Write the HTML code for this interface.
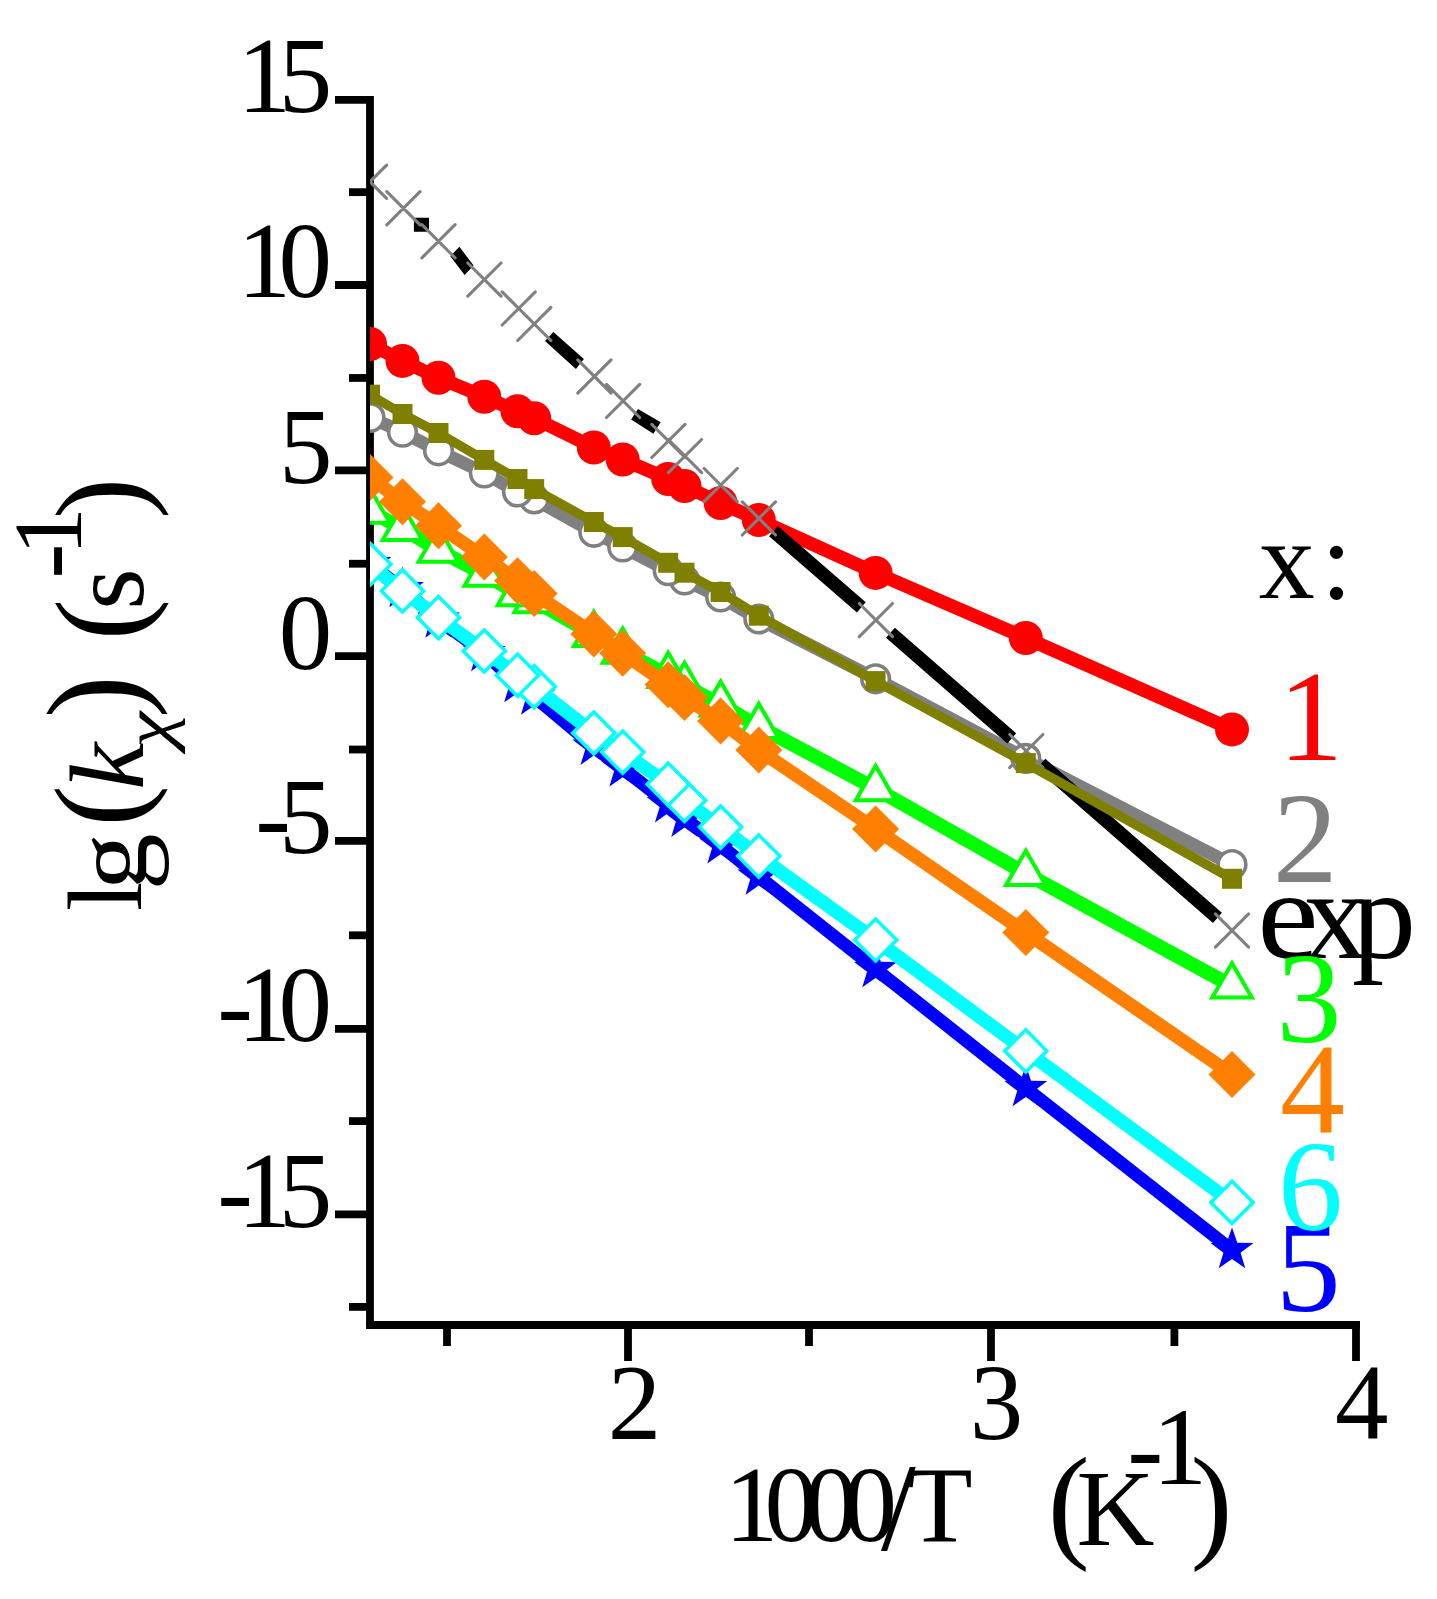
<!DOCTYPE html>
<html><head><meta charset="utf-8"><style>
html,body{margin:0;padding:0;background:#fff;}
svg{display:block;}
text{font-family:"Liberation Serif",serif;}
</style></head><body>
<svg width="1437" height="1599" viewBox="0 0 1437 1599">
<rect width="1437" height="1599" fill="#fff"/>
<path d="M370.0 96 V1325.0" stroke="#000" stroke-width="7.8" fill="none"/>
<path d="M366.1 1325.0 H1360" stroke="#000" stroke-width="7.8" fill="none"/>
<path d="M335 99.90 H370.0" stroke="#000" stroke-width="7.8"/>
<path d="M335 285.00 H370.0" stroke="#000" stroke-width="7.8"/>
<path d="M335 470.30 H370.0" stroke="#000" stroke-width="7.8"/>
<path d="M335 656.20 H370.0" stroke="#000" stroke-width="7.8"/>
<path d="M335 840.85 H370.0" stroke="#000" stroke-width="7.8"/>
<path d="M335 1028.90 H370.0" stroke="#000" stroke-width="7.8"/>
<path d="M335 1214.40 H370.0" stroke="#000" stroke-width="7.8"/>
<path d="M349 192.17 H370.0" stroke="#000" stroke-width="7.8"/>
<path d="M349 377.95 H370.0" stroke="#000" stroke-width="7.8"/>
<path d="M349 563.74 H370.0" stroke="#000" stroke-width="7.8"/>
<path d="M349 749.52 H370.0" stroke="#000" stroke-width="7.8"/>
<path d="M349 935.31 H370.0" stroke="#000" stroke-width="7.8"/>
<path d="M349 1121.09 H370.0" stroke="#000" stroke-width="7.8"/>
<path d="M349 1306.88 H370.0" stroke="#000" stroke-width="7.8"/>
<path d="M628.0 1325.0 V1361" stroke="#000" stroke-width="7.8"/>
<path d="M991.0 1325.0 V1361" stroke="#000" stroke-width="7.8"/>
<path d="M1356.0 1325.0 V1361" stroke="#000" stroke-width="7.8"/>
<path d="M447.00 1325.0 V1346" stroke="#000" stroke-width="7.8"/>
<path d="M809.00 1325.0 V1346" stroke="#000" stroke-width="7.8"/>
<path d="M1174.40 1325.0 V1346" stroke="#000" stroke-width="7.8"/>
<text x="278.68" y="112.30" font-size="107" fill="#000" style="" >5</text>
<text x="237.50" y="112.30" font-size="107" fill="#000" style="" >1</text>
<text x="278.58" y="297.40" font-size="107" fill="#000" style="" >0</text>
<text x="237.50" y="297.40" font-size="107" fill="#000" style="" >1</text>
<text x="278.88" y="482.70" font-size="107" fill="#000" style="" >5</text>
<text x="278.78" y="668.60" font-size="107" fill="#000" style="" >0</text>
<text x="278.88" y="853.25" font-size="107" fill="#000" style="" >5</text>
<text x="255.23" y="853.25" font-size="107" fill="#000" style="" >-</text>
<text x="278.58" y="1041.30" font-size="107" fill="#000" style="" >0</text>
<text x="237.50" y="1041.30" font-size="107" fill="#000" style="" >1</text>
<text x="217.13" y="1041.30" font-size="107" fill="#000" style="" >-</text>
<text x="278.68" y="1226.80" font-size="107" fill="#000" style="" >5</text>
<text x="237.50" y="1226.80" font-size="107" fill="#000" style="" >1</text>
<text x="217.13" y="1226.80" font-size="107" fill="#000" style="" >-</text>
<text x="607.85" y="1438.80" font-size="107" fill="#000" style="" >2</text>
<text x="969.68" y="1438.80" font-size="107" fill="#000" style="" >3</text>
<text x="1335.04" y="1438.80" font-size="107" fill="#000" style="" >4</text>
<text x="724.70" y="1540.50" font-size="107" fill="#000" style="" >1</text>
<text x="764.42" y="1540.50" font-size="107" fill="#000" style="" >0</text>
<text x="804.62" y="1540.50" font-size="107" fill="#000" style="" >0</text>
<text x="843.52" y="1540.50" font-size="107" fill="#000" style="" >0</text>
<text x="881.00" y="1549.50" font-size="125" fill="#000" style="" >/</text>
<text x="907.27" y="1540.50" font-size="107" fill="#000" style="" >T</text>
<g transform="translate(0,0)">
<text x="1047.66" y="1545.00" font-size="126" fill="#000" style="" >(</text>
<text x="1190.58" y="1545.00" font-size="126" fill="#000" style="" >)</text>
</g>
<text x="1076.59" y="1544.50" font-size="108" fill="#000" style="" >K</text>
<text x="1127.29" y="1483.50" font-size="108" fill="#000" style="" >-</text>
<text x="1152.33" y="1483.90" font-size="110" fill="#000" style="" >1</text>
<g transform="rotate(-90)">
<text x="-911.12" y="140.80" font-size="106" style="">l</text>
<text transform="translate(-890.42 145.50) scale(1.08 1)" x="0" y="0" font-size="106" style="">g</text>
<text x="-826.45" y="141.20" font-size="124" style="">(</text>
<text x="-789.65" y="142.80" font-size="106" style="font-style:italic;">k</text>
<text transform="translate(-747.77 170.50) scale(1.2 1)" x="0" y="0" font-size="68" style="font-style:italic;">χ</text>
<text transform="translate(-718.15 139.00) scale(0.96 1)" x="0" y="0" font-size="134" style="">)</text>
<text x="-640.15" y="142.00" font-size="124" style="">(</text>
<text x="-609.75" y="142.70" font-size="106" style="">s</text>
<text x="-578.73" y="82.90" font-size="106" style="">-</text>
<text x="-555.48" y="80.70" font-size="96.5" style="">1</text>
<text x="-519.00" y="142.00" font-size="124" style="">)</text>
</g>
<defs><clipPath id="pc"><rect x="370" y="0" width="1067" height="1325"/></clipPath></defs>
<g clip-path="url(#pc)">
<path d="M370.00 564.00L402.50 589.00M402.50 589.00L438.50 619.50M438.50 619.50L484.30 653.00M484.30 653.00L517.50 684.00M517.50 684.00L534.20 696.50M534.20 696.50L593.80 746.60M593.80 746.60L622.70 768.20M622.70 768.20L668.20 804.10M668.20 804.10L684.50 818.60M684.50 818.60L720.60 845.30M720.60 845.30L758.80 876.50M758.80 876.50L875.60 969.00M875.60 969.00L1025.80 1088.00M1025.80 1088.00L1232.00 1250.00" stroke="#0000ff" stroke-width="13" fill="none" stroke-linecap="butt"/>
<path d="M1232.00 1227.40L1237.29 1242.72L1253.49 1243.02L1240.56 1252.78L1245.28 1268.28L1232.00 1259.00L1218.72 1268.28L1223.44 1252.78L1210.51 1243.02L1226.71 1242.72Z" fill="#0000ff"/><path d="M1025.80 1065.40L1031.09 1080.72L1047.29 1081.02L1034.36 1090.78L1039.08 1106.28L1025.80 1097.00L1012.52 1106.28L1017.24 1090.78L1004.31 1081.02L1020.51 1080.72Z" fill="#0000ff"/><path d="M875.60 946.40L880.89 961.72L897.09 962.02L884.16 971.78L888.88 987.28L875.60 978.00L862.32 987.28L867.04 971.78L854.11 962.02L870.31 961.72Z" fill="#0000ff"/><path d="M758.80 853.90L764.09 869.22L780.29 869.52L767.36 879.28L772.08 894.78L758.80 885.50L745.52 894.78L750.24 879.28L737.31 869.52L753.51 869.22Z" fill="#0000ff"/><path d="M720.60 822.70L725.89 838.02L742.09 838.32L729.16 848.08L733.88 863.58L720.60 854.30L707.32 863.58L712.04 848.08L699.11 838.32L715.31 838.02Z" fill="#0000ff"/><path d="M684.50 796.00L689.79 811.32L705.99 811.62L693.06 821.38L697.78 836.88L684.50 827.60L671.22 836.88L675.94 821.38L663.01 811.62L679.21 811.32Z" fill="#0000ff"/><path d="M668.20 781.50L673.49 796.82L689.69 797.12L676.76 806.88L681.48 822.38L668.20 813.10L654.92 822.38L659.64 806.88L646.71 797.12L662.91 796.82Z" fill="#0000ff"/><path d="M622.70 745.60L627.99 760.92L644.19 761.22L631.26 770.98L635.98 786.48L622.70 777.20L609.42 786.48L614.14 770.98L601.21 761.22L617.41 760.92Z" fill="#0000ff"/><path d="M593.80 724.00L599.09 739.32L615.29 739.62L602.36 749.38L607.08 764.88L593.80 755.60L580.52 764.88L585.24 749.38L572.31 739.62L588.51 739.32Z" fill="#0000ff"/><path d="M534.20 673.90L539.49 689.22L555.69 689.52L542.76 699.28L547.48 714.78L534.20 705.50L520.92 714.78L525.64 699.28L512.71 689.52L528.91 689.22Z" fill="#0000ff"/><path d="M517.50 661.40L522.79 676.72L538.99 677.02L526.06 686.78L530.78 702.28L517.50 693.00L504.22 702.28L508.94 686.78L496.01 677.02L512.21 676.72Z" fill="#0000ff"/><path d="M484.30 630.40L489.59 645.72L505.79 646.02L492.86 655.78L497.58 671.28L484.30 662.00L471.02 671.28L475.74 655.78L462.81 646.02L479.01 645.72Z" fill="#0000ff"/><path d="M438.50 596.90L443.79 612.22L459.99 612.52L447.06 622.28L451.78 637.78L438.50 628.50L425.22 637.78L429.94 622.28L417.01 612.52L433.21 612.22Z" fill="#0000ff"/><path d="M402.50 566.40L407.79 581.72L423.99 582.02L411.06 591.78L415.78 607.28L402.50 598.00L389.22 607.28L393.94 591.78L381.01 582.02L397.21 581.72Z" fill="#0000ff"/><path d="M370.00 541.40L375.29 556.72L391.49 557.02L378.56 566.78L383.28 582.28L370.00 573.00L356.72 582.28L361.44 566.78L348.51 557.02L364.71 556.72Z" fill="#0000ff"/>
<path d="M370.00 564.30L402.50 590.90M402.50 590.90L438.50 617.60M438.50 617.60L484.30 651.00M484.30 651.00L517.50 675.20M517.50 675.20L534.20 686.70M534.20 686.70L593.80 733.00M593.80 733.00L622.70 752.10M622.70 752.10L668.20 784.30M668.20 784.30L684.50 800.40M684.50 800.40L720.60 827.10M720.60 827.10L758.80 856.10M758.80 856.10L875.60 940.00M875.60 940.00L1025.80 1050.90M1025.80 1050.90L1232.00 1202.40" stroke="#00ffff" stroke-width="13.5" fill="none" stroke-linecap="butt"/>
<path d="M1232.00 1181.30L1253.10 1202.40L1232.00 1223.50L1210.90 1202.40Z" fill="#fff" stroke="#00ffff" stroke-width="3.5" stroke-linejoin="miter"/><path d="M1025.80 1029.80L1046.90 1050.90L1025.80 1072.00L1004.70 1050.90Z" fill="#fff" stroke="#00ffff" stroke-width="3.5" stroke-linejoin="miter"/><path d="M875.60 918.90L896.70 940.00L875.60 961.10L854.50 940.00Z" fill="#fff" stroke="#00ffff" stroke-width="3.5" stroke-linejoin="miter"/><path d="M758.80 835.00L779.90 856.10L758.80 877.20L737.70 856.10Z" fill="#fff" stroke="#00ffff" stroke-width="3.5" stroke-linejoin="miter"/><path d="M720.60 806.00L741.70 827.10L720.60 848.20L699.50 827.10Z" fill="#fff" stroke="#00ffff" stroke-width="3.5" stroke-linejoin="miter"/><path d="M684.50 779.30L705.60 800.40L684.50 821.50L663.40 800.40Z" fill="#fff" stroke="#00ffff" stroke-width="3.5" stroke-linejoin="miter"/><path d="M668.20 763.20L689.30 784.30L668.20 805.40L647.10 784.30Z" fill="#fff" stroke="#00ffff" stroke-width="3.5" stroke-linejoin="miter"/><path d="M622.70 731.00L643.80 752.10L622.70 773.20L601.60 752.10Z" fill="#fff" stroke="#00ffff" stroke-width="3.5" stroke-linejoin="miter"/><path d="M593.80 711.90L614.90 733.00L593.80 754.10L572.70 733.00Z" fill="#fff" stroke="#00ffff" stroke-width="3.5" stroke-linejoin="miter"/><path d="M534.20 665.60L555.30 686.70L534.20 707.80L513.10 686.70Z" fill="#fff" stroke="#00ffff" stroke-width="3.5" stroke-linejoin="miter"/><path d="M517.50 654.10L538.60 675.20L517.50 696.30L496.40 675.20Z" fill="#fff" stroke="#00ffff" stroke-width="3.5" stroke-linejoin="miter"/><path d="M484.30 629.90L505.40 651.00L484.30 672.10L463.20 651.00Z" fill="#fff" stroke="#00ffff" stroke-width="3.5" stroke-linejoin="miter"/><path d="M438.50 596.50L459.60 617.60L438.50 638.70L417.40 617.60Z" fill="#fff" stroke="#00ffff" stroke-width="3.5" stroke-linejoin="miter"/><path d="M402.50 569.80L423.60 590.90L402.50 612.00L381.40 590.90Z" fill="#fff" stroke="#00ffff" stroke-width="3.5" stroke-linejoin="miter"/><path d="M370.00 543.20L391.10 564.30L370.00 585.40L348.90 564.30Z" fill="#fff" stroke="#00ffff" stroke-width="3.5" stroke-linejoin="miter"/>
<path d="M370.00 511.40L402.50 528.50M402.50 528.50L438.50 550.20M438.50 550.20L484.30 574.30M484.30 574.30L517.50 593.70M517.50 593.70L534.20 600.70M534.20 600.70L593.80 634.60M593.80 634.60L622.70 651.30M622.70 651.30L668.20 675.50M668.20 675.50L684.50 685.50M684.50 685.50L720.60 704.40M720.60 704.40L758.80 726.50M758.80 726.50L875.60 788.70M875.60 788.70L1025.80 873.50M1025.80 873.50L1232.00 986.00" stroke="#00ff00" stroke-width="14" fill="none" stroke-linecap="butt"/>
<path d="M1232.00 963.14L1251.80 997.43L1212.20 997.43Z" fill="#fff" stroke="#00ff00" stroke-width="4.0" stroke-linejoin="miter"/><path d="M1025.80 850.64L1045.60 884.93L1006.00 884.93Z" fill="#fff" stroke="#00ff00" stroke-width="4.0" stroke-linejoin="miter"/><path d="M875.60 765.84L895.40 800.13L855.80 800.13Z" fill="#fff" stroke="#00ff00" stroke-width="4.0" stroke-linejoin="miter"/><path d="M758.80 703.64L778.60 737.93L739.00 737.93Z" fill="#fff" stroke="#00ff00" stroke-width="4.0" stroke-linejoin="miter"/><path d="M720.60 681.54L740.40 715.83L700.80 715.83Z" fill="#fff" stroke="#00ff00" stroke-width="4.0" stroke-linejoin="miter"/><path d="M684.50 662.64L704.30 696.93L664.70 696.93Z" fill="#fff" stroke="#00ff00" stroke-width="4.0" stroke-linejoin="miter"/><path d="M668.20 652.64L688.00 686.93L648.40 686.93Z" fill="#fff" stroke="#00ff00" stroke-width="4.0" stroke-linejoin="miter"/><path d="M622.70 628.44L642.50 662.73L602.90 662.73Z" fill="#fff" stroke="#00ff00" stroke-width="4.0" stroke-linejoin="miter"/><path d="M593.80 611.74L613.60 646.03L574.00 646.03Z" fill="#fff" stroke="#00ff00" stroke-width="4.0" stroke-linejoin="miter"/><path d="M534.20 577.84L554.00 612.13L514.40 612.13Z" fill="#fff" stroke="#00ff00" stroke-width="4.0" stroke-linejoin="miter"/><path d="M517.50 570.84L537.30 605.13L497.70 605.13Z" fill="#fff" stroke="#00ff00" stroke-width="4.0" stroke-linejoin="miter"/><path d="M484.30 551.44L504.10 585.73L464.50 585.73Z" fill="#fff" stroke="#00ff00" stroke-width="4.0" stroke-linejoin="miter"/><path d="M438.50 527.34L458.30 561.63L418.70 561.63Z" fill="#fff" stroke="#00ff00" stroke-width="4.0" stroke-linejoin="miter"/><path d="M402.50 505.64L422.30 539.93L382.70 539.93Z" fill="#fff" stroke="#00ff00" stroke-width="4.0" stroke-linejoin="miter"/><path d="M370.00 488.54L389.80 522.83L350.20 522.83Z" fill="#fff" stroke="#00ff00" stroke-width="4.0" stroke-linejoin="miter"/>
<path d="M370.00 477.50L402.50 501.70M402.50 501.70L438.50 525.80M438.50 525.80L484.30 557.00M484.30 557.00L517.50 580.80M517.50 580.80L534.20 593.50M534.20 593.50L593.80 633.90M593.80 633.90L622.70 653.30M622.70 653.30L668.20 684.80M668.20 684.80L684.50 697.40M684.50 697.40L720.60 721.00M720.60 721.00L758.80 750.00M758.80 750.00L875.60 829.00M875.60 829.00L1025.80 932.60M1025.80 932.60L1232.00 1074.50" stroke="#ff8000" stroke-width="13.5" fill="none" stroke-linecap="butt"/>
<path d="M1232.00 1051.00L1255.50 1074.50L1232.00 1098.00L1208.50 1074.50Z" fill="#ff8000"/><path d="M1025.80 909.10L1049.30 932.60L1025.80 956.10L1002.30 932.60Z" fill="#ff8000"/><path d="M875.60 805.50L899.10 829.00L875.60 852.50L852.10 829.00Z" fill="#ff8000"/><path d="M758.80 726.50L782.30 750.00L758.80 773.50L735.30 750.00Z" fill="#ff8000"/><path d="M720.60 697.50L744.10 721.00L720.60 744.50L697.10 721.00Z" fill="#ff8000"/><path d="M684.50 673.90L708.00 697.40L684.50 720.90L661.00 697.40Z" fill="#ff8000"/><path d="M668.20 661.30L691.70 684.80L668.20 708.30L644.70 684.80Z" fill="#ff8000"/><path d="M622.70 629.80L646.20 653.30L622.70 676.80L599.20 653.30Z" fill="#ff8000"/><path d="M593.80 610.40L617.30 633.90L593.80 657.40L570.30 633.90Z" fill="#ff8000"/><path d="M534.20 570.00L557.70 593.50L534.20 617.00L510.70 593.50Z" fill="#ff8000"/><path d="M517.50 557.30L541.00 580.80L517.50 604.30L494.00 580.80Z" fill="#ff8000"/><path d="M484.30 533.50L507.80 557.00L484.30 580.50L460.80 557.00Z" fill="#ff8000"/><path d="M438.50 502.30L462.00 525.80L438.50 549.30L415.00 525.80Z" fill="#ff8000"/><path d="M402.50 478.20L426.00 501.70L402.50 525.20L379.00 501.70Z" fill="#ff8000"/><path d="M370.00 454.00L393.50 477.50L370.00 501.00L346.50 477.50Z" fill="#ff8000"/>
<path d="M370.00 344.00L402.50 360.90M402.50 360.90L438.50 377.80M438.50 377.80L484.30 396.80M484.30 396.80L517.50 411.30M517.50 411.30L534.20 418.30M534.20 418.30L593.80 447.50M593.80 447.50L622.70 459.50M622.70 459.50L668.20 479.00M668.20 479.00L684.50 486.00M684.50 486.00L720.60 503.00M720.60 503.00L758.80 520.00M758.80 520.00L875.60 572.90M875.60 572.90L1025.80 638.00M1025.80 638.00L1232.00 729.40" stroke="#ff0000" stroke-width="13.5" fill="none" stroke-linecap="butt"/>
<circle cx="1232" cy="729.4" r="17" fill="#ff0000"/><circle cx="1025.8" cy="638" r="17" fill="#ff0000"/><circle cx="875.6" cy="572.9" r="17" fill="#ff0000"/><circle cx="758.8" cy="520" r="17" fill="#ff0000"/><circle cx="720.6" cy="503" r="17" fill="#ff0000"/><circle cx="684.5" cy="486" r="17" fill="#ff0000"/><circle cx="668.2" cy="479" r="17" fill="#ff0000"/><circle cx="622.7" cy="459.5" r="17" fill="#ff0000"/><circle cx="593.8" cy="447.5" r="17" fill="#ff0000"/><circle cx="534.2" cy="418.3" r="17" fill="#ff0000"/><circle cx="517.5" cy="411.3" r="17" fill="#ff0000"/><circle cx="484.3" cy="396.8" r="17" fill="#ff0000"/><circle cx="438.5" cy="377.8" r="17" fill="#ff0000"/><circle cx="402.5" cy="360.9" r="17" fill="#ff0000"/><circle cx="370" cy="344" r="17" fill="#ff0000"/>
<path d="M370.00 417.40L402.50 432.20M402.50 432.20L438.50 450.80M438.50 450.80L484.30 473.00M484.30 473.00L517.50 492.00M517.50 492.00L534.20 499.00M534.20 499.00L593.80 532.30M593.80 532.30L622.70 547.00M622.70 547.00L668.20 570.70M668.20 570.70L684.50 580.00M684.50 580.00L720.60 597.00M720.60 597.00L758.80 619.00M758.80 619.00L875.60 678.80M875.60 678.80L1025.80 758.40M1025.80 758.40L1232.00 864.60" stroke="#808080" stroke-width="13" fill="none" stroke-linecap="butt"/>
<circle cx="1232" cy="864.6" r="13.8" fill="#fff" stroke="#808080" stroke-width="3.6"/><circle cx="1025.8" cy="758.4" r="13.8" fill="#fff" stroke="#808080" stroke-width="3.6"/><circle cx="875.6" cy="678.8" r="13.8" fill="#fff" stroke="#808080" stroke-width="3.6"/><circle cx="758.8" cy="619" r="13.8" fill="#fff" stroke="#808080" stroke-width="3.6"/><circle cx="720.6" cy="597" r="13.8" fill="#fff" stroke="#808080" stroke-width="3.6"/><circle cx="684.5" cy="580" r="13.8" fill="#fff" stroke="#808080" stroke-width="3.6"/><circle cx="668.2" cy="570.7" r="13.8" fill="#fff" stroke="#808080" stroke-width="3.6"/><circle cx="622.7" cy="547" r="13.8" fill="#fff" stroke="#808080" stroke-width="3.6"/><circle cx="593.8" cy="532.3" r="13.8" fill="#fff" stroke="#808080" stroke-width="3.6"/><circle cx="534.2" cy="499" r="13.8" fill="#fff" stroke="#808080" stroke-width="3.6"/><circle cx="517.5" cy="492" r="13.8" fill="#fff" stroke="#808080" stroke-width="3.6"/><circle cx="484.3" cy="473" r="13.8" fill="#fff" stroke="#808080" stroke-width="3.6"/><circle cx="438.5" cy="450.8" r="13.8" fill="#fff" stroke="#808080" stroke-width="3.6"/><circle cx="402.5" cy="432.2" r="13.8" fill="#fff" stroke="#808080" stroke-width="3.6"/><circle cx="370" cy="417.4" r="13.8" fill="#fff" stroke="#808080" stroke-width="3.6"/>
<path d="M773.47 531.06L861.33 607.44M890.45 632.78L1011.75 738.42M1040.85 763.79L1217.45 917.81" stroke="#000" stroke-width="13.5" fill="none"/>
<path d="M413.9 217.8H429V231.7H413.9Z M459.4 246.8L473.6 265.6L464.6 275L450.3 256.2Z M553.4 332.1L583.9 359L575.9 368.9L545 340.9Z M638 409L660.7 422.3L653.4 433.8L631.1 419.4Z" fill="#000"/>
<path d="M1215.40 913.90L1248.60 947.10M1215.40 947.10L1248.60 913.90M1009.70 734.50L1042.90 767.70M1009.70 767.70L1042.90 734.50M859.30 603.50L892.50 636.70M859.30 636.70L892.50 603.50M742.30 501.80L775.50 535.00M742.30 535.00L775.50 501.80M704.10 468.50L737.30 501.70M704.10 501.70L737.30 468.50M668.40 439.50L701.60 472.70M668.40 472.70L701.60 439.50M651.80 424.30L685.00 457.50M651.80 457.50L685.00 424.30M606.50 384.30L639.70 417.50M606.50 417.50L639.70 384.30M577.80 359.90L611.00 393.10M577.80 393.10L611.00 359.90M517.70 307.30L550.90 340.50M517.70 340.50L550.90 307.30M502.10 291.80L535.30 325.00M502.10 325.00L535.30 291.80M467.80 263.00L501.00 296.20M467.80 296.20L501.00 263.00M421.90 224.70L455.10 257.90M421.90 257.90L455.10 224.70M386.80 191.60L420.00 224.80M386.80 224.80L420.00 191.60M353.40 165.10L386.60 198.30M353.40 198.30L386.60 165.10" stroke="#808080" stroke-width="3.1" fill="none" stroke-linecap="round"/>
<path d="M370.00 394.70L402.50 414.00M402.50 414.00L438.50 433.00M438.50 433.00L484.30 459.90M484.30 459.90L517.50 479.00M517.50 479.00L534.20 489.10M534.20 489.10L593.80 522.00M593.80 522.00L622.70 537.10M622.70 537.10L668.20 562.80M668.20 562.80L684.50 572.70M684.50 572.70L720.60 592.00M720.60 592.00L758.80 615.70M758.80 615.70L875.60 681.10M875.60 681.10L1025.80 763.10M1025.80 763.10L1232.00 878.80" stroke="#808000" stroke-width="9.4" fill="none" stroke-linecap="butt"/>
<rect x="1222.00" y="868.80" width="20" height="20" fill="#808000"/><rect x="1015.80" y="753.10" width="20" height="20" fill="#808000"/><rect x="865.60" y="671.10" width="20" height="20" fill="#808000"/><rect x="748.80" y="605.70" width="20" height="20" fill="#808000"/><rect x="710.60" y="582.00" width="20" height="20" fill="#808000"/><rect x="674.50" y="562.70" width="20" height="20" fill="#808000"/><rect x="658.20" y="552.80" width="20" height="20" fill="#808000"/><rect x="612.70" y="527.10" width="20" height="20" fill="#808000"/><rect x="583.80" y="512.00" width="20" height="20" fill="#808000"/><rect x="524.20" y="479.10" width="20" height="20" fill="#808000"/><rect x="507.50" y="469.00" width="20" height="20" fill="#808000"/><rect x="474.30" y="449.90" width="20" height="20" fill="#808000"/><rect x="428.50" y="423.00" width="20" height="20" fill="#808000"/><rect x="392.50" y="404.00" width="20" height="20" fill="#808000"/><rect x="360.00" y="384.70" width="20" height="20" fill="#808000"/>
</g>
<text x="1258.82" y="598.00" font-size="112" fill="#000" style="" >x</text>
<text x="1321.04" y="598.00" font-size="112" fill="#000" style="" >:</text>
<text x="1278.17" y="759.80" font-size="130" fill="#ff0000" style="" >1</text>
<text x="1272.79" y="882.00" font-size="130" fill="#808080" style="" >2</text>
<text transform="translate(1288.20 957.50) scale(1.08 1.0)" x="-28.69" y="0" font-size="128" fill="#000" style="">e</text>
<text x="1303.38" y="957.50" font-size="128" fill="#000" style="" >x</text>
<text x="1351.94" y="957.50" font-size="128" fill="#000" style="" >p</text>
<text x="1276.58" y="1041.50" font-size="130" fill="#00ff00" style="" >3</text>
<text x="1280.06" y="1133.10" font-size="130" fill="#ff8000" style="" >4</text>
<text x="1275.65" y="1311.30" font-size="130" fill="#0000ff" style="" >5</text>
<text x="1278.01" y="1229.50" font-size="130" fill="#00ffff" style="" >6</text>
</svg>
</body></html>
